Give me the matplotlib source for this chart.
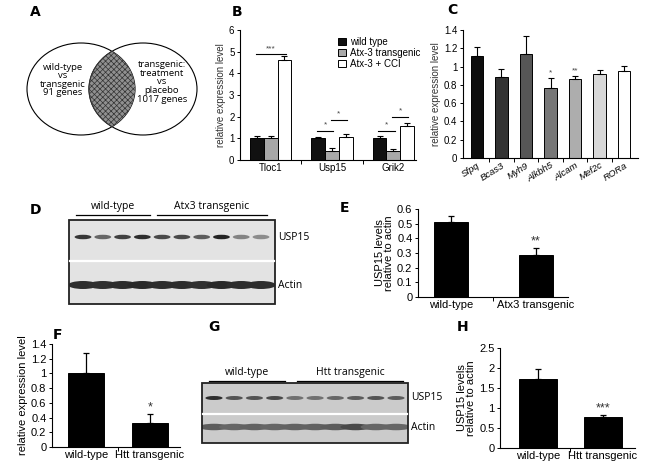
import matplotlib
matplotlib.use("Agg")
import matplotlib.pyplot as plt
from matplotlib.patches import Ellipse, Rectangle
import numpy as np

# ---------------- data ----------------
b_genes = ["Tloc1", "Usp15", "Grik2"]
b_series = ["wild type", "Atx-3 transgenic", "Atx-3 + CCI"]
b_wt = [1.0, 1.0, 1.0]
b_wt_err = [0.12, 0.08, 0.1]
b_tg = [1.0, 0.42, 0.42]
b_tg_err = [0.12, 0.12, 0.1]
b_cci = [4.6, 1.05, 1.57]
b_cci_err = [0.22, 0.15, 0.15]

c_genes = ["Sfpq", "Bcas3", "Myh9", "Alkbh5", "Alcam", "Mef2c", "RORa"]
c_vals = [1.12, 0.89, 1.14, 0.77, 0.86, 0.92, 0.95]
c_err = [0.09, 0.08, 0.19, 0.11, 0.04, 0.04, 0.06]
c_sig = ["", "", "", "*", "**", "", ""]

e_groups = ["wild-type", "Atx3 transgenic"]
e_vals = [0.51, 0.285]
e_err = [0.045, 0.05]

f_groups = ["wild-type", "Htt transgenic"]
f_vals = [1.0, 0.32]
f_err = [0.28, 0.13]

h_groups = ["wild-type", "Htt transgenic"]
h_vals = [1.73, 0.77]
h_err = [0.25, 0.06]

d_usp15 = [0.85, 0.6, 0.8, 0.9, 0.75, 0.75, 0.65, 0.95, 0.45, 0.4]
d_actin = [0.9, 0.88, 0.9, 0.92, 0.9, 0.9, 0.88, 0.92, 0.9, 0.9]
g_usp15 = [0.9, 0.7, 0.7, 0.75, 0.55, 0.55, 0.6, 0.65, 0.7, 0.65]
g_actin = [0.65, 0.6, 0.62, 0.6, 0.62, 0.62, 0.65, 0.75, 0.6, 0.6]

# ---------------- layout ----------------
W, H = 660, 466
fig = plt.figure(figsize=(W / 100, H / 100), dpi=100)
plt.rcParams['font.family'] = ['Liberation Sans', 'DejaVu Sans']
plt.rcParams['hatch.linewidth'] = 0.5

def axpx(x0, y0, x1, y1):
    return fig.add_axes([x0 / W, 1 - y1 / H, (x1 - x0) / W, (y1 - y0) / H])

ov = fig.add_axes([0, 0, 1, 1], zorder=-1)
ov.set_xlim(0, W)
ov.set_ylim(H, 0)
ov.axis('off')

def style(ax, fs=7):
    for s in ["top", "right"]:
        ax.spines[s].set_visible(False)
    ax.spines["left"].set_linewidth(0.8)
    ax.spines["bottom"].set_linewidth(0.8)
    ax.tick_params(axis='y', length=2.5, width=0.7, labelsize=fs, pad=1.5)
    ax.tick_params(axis='x', which='major', length=0, labelsize=fs, pad=2)
    ax.tick_params(axis='x', which='minor', length=3, width=0.7)

# panel letters
for letter, (x, y) in {"A": (30, 12), "B": (232, 12), "C": (447, 10), "D": (30, 210),
                       "E": (340, 208), "F": (53, 335), "G": (208, 327), "H": (457, 327)}.items():
    ov.text(x, y, letter, fontsize=10, fontweight='bold', ha='left', va='center',
            family=['DejaVu Sans'])

# ---------------- A: Venn ----------------
left = Ellipse((81, 89), 108, 92, facecolor='none', edgecolor='black', lw=0.8)
right = Ellipse((143, 89), 108, 92, facecolor='none', edgecolor='black', lw=0.8)
ov.add_patch(left)
ov.add_patch(right)
lens = Ellipse((143, 89), 108, 92, facecolor='#909090', edgecolor='#333333',
               hatch='xxxxxx', lw=0.8)
ov.add_patch(lens)
lens.set_clip_path(left)
ov.text(63, 80, "wild-type\nvs\ntransgenic\n91 genes", ha='center', va='center',
        fontsize=6.8, family=['Open Sans', 'DejaVu Sans'], linespacing=0.95)
ov.text(162, 82, "transgenic:\ntreatment\nvs\nplacebo\n1017 genes", ha='center', va='center',
        fontsize=6.8, family=['Open Sans', 'DejaVu Sans'], linespacing=0.95)

# ---------------- B ----------------
axb = axpx(240, 30, 416, 160)
style(axb)
x = np.arange(len(b_genes))
bw = 0.225
kw = dict(edgecolor='black', linewidth=0.7, error_kw=dict(elinewidth=0.8, capthick=0.8), capsize=2)
axb.bar(x - bw, b_wt, bw, yerr=[[0] * 3, b_wt_err], color='#111111', label=b_series[0], **kw)
axb.bar(x, b_tg, bw, yerr=[[0] * 3, b_tg_err], color='#a8a8a8', label=b_series[1], **kw)
axb.bar(x + bw, b_cci, bw, yerr=[[0] * 3, b_cci_err], color='white', label=b_series[2], **kw)
axb.set_xlim(-0.5, 2.37)
axb.set_ylim(0, 6)
axb.set_yticks(range(7))
axb.set_xticks(x)
axb.set_xticklabels(b_genes)
axb.set_xticks([0.5, 1.5], minor=True)
axb.set_ylabel("relative expression level", fontsize=7, labelpad=2, color='#333333')
sig = [(0, -bw, bw, 4.88, "***"), (1, -bw, 0, 1.36, "*"), (1, 0, bw, 1.85, "*"),
       (2, -bw, 0, 1.36, "*"), (2, 0, bw, 2.0, "*")]
for g, a, b, yy, s in sig:
    axb.plot([g + a - 0.02, g + b + 0.02], [yy, yy], color='black', lw=0.8)
    axb.text(g + (a + b) / 2, yy + 0.1, s, ha='center', va='bottom', fontsize=6, color='#444444')
axb.legend(loc='upper left', bbox_to_anchor=(0.52, 1.0), frameon=False, fontsize=7,
           handlelength=0.8, handleheight=0.8, handletextpad=0.4, labelspacing=0.1,
           borderaxespad=0.3)

# ---------------- C ----------------
axc = axpx(463, 30, 638, 158)
style(axc)
c_colors = ['#0d0d0d', '#333333', '#565656', '#777777', '#adadad', '#d8d8d8', '#ffffff']
xc = np.arange(len(c_genes))
axc.bar(xc, c_vals, 0.5, yerr=[[0] * 7, c_err], color=c_colors, **kw)
for xi, v, e, s in zip(xc, c_vals, c_err, c_sig):
    if s:
        axc.text(xi, v + e + 0.01, s, ha='center', va='bottom', fontsize=6, color='#444444')
axc.set_xlim(-0.57, 6.57)
axc.set_ylim(0, 1.4)
axc.set_yticks(np.arange(0, 1.41, 0.2))
axc.set_yticklabels(["0", "0.2", "0.4", "0.6", "0.8", "1", "1.2", "1.4"])
axc.set_xticks(xc)
axc.set_xticklabels(c_genes, rotation=32, ha='right', rotation_mode='anchor', style='italic',
                    fontsize=6.8)
axc.set_xticks(xc[:-1] + 0.5, minor=True)
axc.set_ylabel("relative expression level", fontsize=7, labelpad=2, color='#333333')

# ---------------- blots ----------------
def blot(x0, y0, x1, y1, ysplit, y_usp, y_act, usp, act, bg, lane_margin, bh_u, bh_a):
    box = Rectangle((x0, y0), x1 - x0, y1 - y0, facecolor=bg, edgecolor='none')
    ov.add_patch(box)
    n = len(usp)
    lx = np.linspace(x0 + lane_margin, x1 - lane_margin, n)
    sp = lx[1] - lx[0]
    for xi, v in zip(lx, usp):
        c = str(max(0.0, 0.85 - 0.75 * v))
        e = Ellipse((xi, y_usp), sp * 0.85, bh_u, facecolor=c, edgecolor='none')
        ov.add_patch(e)
        e.set_clip_path(box)
    for xi, v in zip(lx, act):
        c = str(max(0.0, 0.85 - 0.75 * v))
        e = Ellipse((xi, y_act), sp * 1.5, bh_a, facecolor=c, edgecolor='none')
        ov.add_patch(e)
        e.set_clip_path(box)
    ov.plot([x0 + 1, x1 - 1], [ysplit, ysplit], color='white', lw=1.6)
    ov.add_patch(Rectangle((x0, y0), x1 - x0, y1 - y0, facecolor='none',
                           edgecolor='#222222', lw=1.3))
    return lx

bf = ['Open Sans', 'DejaVu Sans']
blot(69, 220, 275, 304, 261, 237, 285, d_usp15, d_actin, '#e3e3e3', 14, 4.5, 8)
ov.text(278, 238, "USP15", fontsize=7.5, va='center', family=bf)
ov.text(278, 285, "Actin", fontsize=7.5, va='center', family=bf)
ov.plot([76, 150], [215, 215], color='black', lw=0.9)
ov.plot([157, 267], [215, 215], color='black', lw=0.9)
ov.text(113, 212, "wild-type", fontsize=7.5, ha='center', va='bottom', family=bf)
ov.text(212, 212, "Atx3 transgenic", fontsize=7.5, ha='center', va='bottom', family=bf)

blot(202, 383, 408, 443, 414, 398, 427, g_usp15, g_actin, '#cbcbcb', 12, 4, 6.5)
ov.text(411, 398, "USP15", fontsize=7.5, va='center', family=bf)
ov.text(411, 427, "Actin", fontsize=7.5, va='center', family=bf)
ov.plot([209, 285], [381, 381], color='black', lw=0.9)
ov.plot([297, 403], [381, 381], color='black', lw=0.9)
ov.text(247, 378, "wild-type", fontsize=7.5, ha='center', va='bottom', family=bf)
ov.text(350, 378, "Htt transgenic", fontsize=7.5, ha='center', va='bottom', family=bf)

# ---------------- E, F, H ----------------
def twobar(ax, vals, err, labels, xlim, width, ylim, yticks, yticklabels, ylabel, sig, sig_y, fs=8):
    style(ax, fs)
    ax.bar([0, 1], vals, width, yerr=[[0, 0], err], color='black', edgecolor='black',
           linewidth=0.7, capsize=2.5, error_kw=dict(elinewidth=0.9, capthick=0.9))
    ax.set_xlim(*xlim)
    ax.set_ylim(*ylim)
    ax.set_yticks(yticks)
    ax.set_yticklabels(yticklabels)
    ax.set_xticks([0, 1])
    ax.set_xticklabels(labels)
    ax.set_xticks([0.5], minor=True)
    ax.set_ylabel(ylabel, fontsize=fs, labelpad=2, linespacing=0.95)
    ax.text(1, sig_y, sig, ha='center', va='bottom', fontsize=fs + 1, color='#333333')

axe = axpx(418, 209, 568, 297)
twobar(axe, e_vals, e_err, e_groups, (-0.39, 1.38), 0.4, (0, 0.6),
       np.arange(0, 0.61, 0.1), ["0", "0.1", "0.2", "0.3", "0.4", "0.5", "0.6"],
       "USP15 levels\nrelative to actin", "**", 0.34)

axf = axpx(52, 344, 180, 447)
twobar(axf, f_vals, f_err, f_groups, (-0.53, 1.47), 0.55, (0, 1.4),
       np.arange(0, 1.41, 0.2), ["0", "0.2", "0.4", "0.6", "0.8", "1", "1.2", "1.4"],
       "relative expression level", "*", 0.46)

axh = axpx(500, 348, 635, 448)
twobar(axh, h_vals, h_err, h_groups, (-0.58, 1.49), 0.58, (0, 2.5),
       [0, 0.5, 1, 1.5, 2, 2.5], ["0", "0.5", "1", "1.5", "2", "2.5"],
       "USP15 levels\nrelative to actin", "***", 0.84)

fig.savefig("out.png", dpi=100)
